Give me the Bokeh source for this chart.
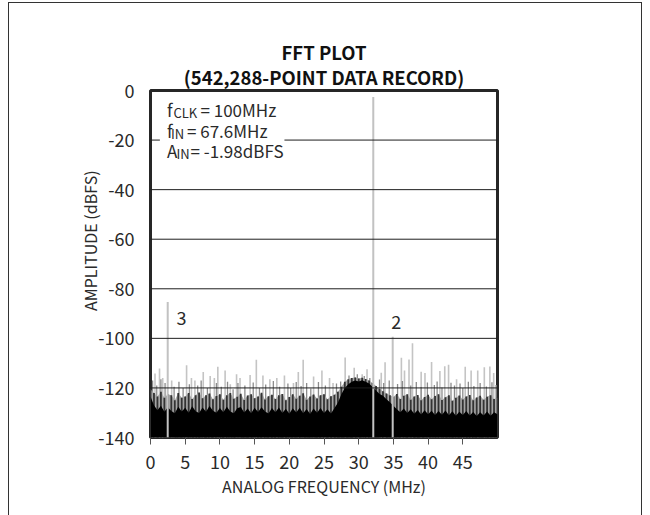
from bokeh.plotting import figure
from bokeh.models import (Range1d, FixedTicker, Label, Span, BoxAnnotation, Title,
                          InlineStyleSheet)
from bokeh.embed import file_html
from bokeh.resources import INLINE

# ---------------- data ----------------
x_ticks = [0, 5, 10, 15, 20, 25, 30, 35, 40, 45]
y_ticks = [-140, -120, -100, -80, -60, -40, -20, 0]

# fundamental and harmonics (MHz, dBFS)
tone_f = [32.1, 2.48, 34.9]
tone_db = [-2.6, -85.3, -99.4]

# tall light-grey spurs
spur_f = [0.65, 1.3, 1.76, 3.05, 5.2, 5.9, 6.4, 7.6, 8.6, 9.2, 9.7, 10.75, 11.5,
          12.4, 12.9, 14.35, 15.25, 16.2, 17.2, 18.2, 19.3, 20.6, 21.3, 22.0, 23.5,
          24.7, 25.8, 26.3, 28.05, 29.35, 30.5, 31.2, 33.25, 33.8, 36.15, 36.6,
          37.25, 37.75, 39.0, 39.55, 40.5, 41.7, 42.4, 42.95, 44.1, 45.35, 46.2,
          47.15, 48.1, 48.9, 49.45]
spur_db = [-114.2, -112.2, -116.0, -117.0, -110.8, -116.0, -117.0, -113.6, -115.2,
           -116.0, -111.5, -113.0, -118.5, -114.5, -116.0, -114.8, -108.6, -115.0,
           -116.5, -116.0, -115.0, -118.0, -113.6, -108.6, -115.4, -113.0, -116.0,
           -118.0, -107.7, -111.9, -114.5, -112.5, -113.9, -109.6, -107.8, -113.0,
           -108.5, -102.0, -113.5, -114.0, -109.5, -113.2, -111.3, -110.6, -116.5,
           -111.5, -113.0, -113.0, -111.7, -111.4, -114.0]

# shorter mid-grey spurs
mid_f = [0.3, 0.9, 1.5, 2.1, 3.4, 4.1, 4.7, 5.6, 6.8, 7.3, 8.2, 9.5, 10.2,
         11.1, 11.9, 12.6, 13.6, 14.8, 15.7, 16.6, 17.7, 18.6, 19.8, 20.2,
         21.0, 21.7, 22.5, 23.1, 24.2, 25.2, 26.8, 27.4, 28.6, 29.8, 30.8,
         31.6, 33.0, 33.6, 34.4, 35.6, 36.3, 37.5, 38.3, 39.0, 39.9, 40.9,
         41.3, 42.0, 43.3, 43.8, 44.6, 45.0, 45.8, 46.6, 47.5, 48.4, 49.2, 49.8]
mid_db = [-117.0, -119.0, -116.5, -118.0, -119.5, -117.5, -120.0, -118.5,
          -119.0, -117.0, -120.0, -118.0, -119.5, -117.5, -120.5, -118.0,
          -119.0, -117.8, -120.0, -118.6, -117.2, -119.5, -118.2, -120.0,
          -117.6, -119.2, -118.0, -120.2, -117.6, -119.0, -118.2, -117.4,
          -115.0, -114.5, -115.2, -116.0, -116.6, -118.0, -117.0, -118.4,
          -117.2, -119.0, -117.6, -119.6, -117.8, -118.8, -117.4, -119.8,
          -117.9, -119.0, -118.2, -120.0, -117.5, -119.2, -118.0, -119.4,
          -117.7, -118.8]

# dense dark "grass" and black noise floor, every 0.5 MHz from 0 to 50 MHz
floor_f = [0.0, 0.5, 1.0, 1.5, 2.0, 2.5, 3.0, 3.5, 4.0, 4.5, 5.0, 5.5, 6.0, 6.5,
           7.0, 7.5, 8.0, 8.5, 9.0, 9.5, 10.0, 10.5, 11.0, 11.5, 12.0, 12.5, 13.0,
           13.5, 14.0, 14.5, 15.0, 15.5, 16.0, 16.5, 17.0, 17.5, 18.0, 18.5, 19.0,
           19.5, 20.0, 20.5, 21.0, 21.5, 22.0, 22.5, 23.0, 23.5, 24.0, 24.5, 25.0,
           25.5, 26.0, 26.5, 27.0, 27.5, 28.0, 28.5, 29.0, 29.5, 30.0, 30.5, 31.0,
           31.5, 32.0, 32.5, 33.0, 33.5, 34.0, 34.5, 35.0, 35.5, 36.0, 36.5, 37.0,
           37.5, 38.0, 38.5, 39.0, 39.5, 40.0, 40.5, 41.0, 41.5, 42.0, 42.5, 43.0,
           43.5, 44.0, 44.5, 45.0, 45.5, 46.0, 46.5, 47.0, 47.5, 48.0, 48.5, 49.0,
           49.5, 50.0]
grass_db = [-120.5, -122.0, -123.5, -121.5, -124.0, -122.5, -123.0, -125.0, -122.0,
            -124.0, -123.5, -122.0, -124.5, -123.0, -121.8, -124.2, -123.0, -122.2,
            -124.6, -123.3, -122.5, -124.8, -123.0, -122.0, -124.4, -123.6, -122.3,
            -124.9, -123.1, -122.6, -124.2, -123.5, -121.9, -124.7, -123.4, -122.8,
            -124.5, -123.0, -122.4, -125.0, -123.7, -122.6, -124.4, -123.2, -122.1,
            -124.8, -123.5, -122.7, -124.3, -123.0, -122.5, -124.6, -123.4, -122.8,
            -121.5, -119.5, -117.5, -116.5, -116.0, -115.8, -116.2, -115.9, -116.4,
            -117.0, -118.0, -119.2, -120.4, -121.3, -122.2, -123.0, -123.6, -122.4,
            -124.5, -123.2, -122.6, -124.8, -123.5, -122.9, -125.0, -123.7, -122.8,
            -124.6, -123.3, -122.5, -124.9, -123.8, -123.0, -125.2, -124.0, -123.1,
            -124.7, -123.5, -122.9, -125.0, -123.9, -123.2, -124.8, -123.6, -123.0,
            -124.5, -124.0]
floor_db = [-123.5, -127.0, -129.0, -127.2, -129.6, -127.8, -129.3, -130.2, -127.6,
            -129.5, -128.0, -130.0, -127.4, -129.4, -130.1, -127.9, -129.6, -127.3,
            -129.2, -130.0, -128.1, -129.8, -127.6, -129.5, -130.2, -128.2, -127.7,
            -129.9, -128.3, -130.2, -128.0, -129.7, -127.8, -129.5, -130.3, -128.1,
            -129.8, -127.9, -130.1, -128.4, -130.4, -128.2, -129.9, -128.0, -130.2,
            -128.5, -130.5, -128.3, -130.0, -128.1, -130.1, -128.6, -130.3, -128.2,
            -126.0, -122.5, -120.0, -118.5, -117.5, -117.0, -117.4, -116.9, -117.5,
            -118.2, -119.6, -121.0, -122.4, -123.2, -124.6, -125.8, -127.2, -128.6,
            -129.8, -128.3, -130.1, -128.6, -130.4, -128.9, -130.7, -129.0, -130.6,
            -129.2, -130.9, -129.3, -130.8, -129.1, -131.0, -129.4, -131.2, -129.6,
            -130.9, -129.3, -131.1, -129.7, -131.3, -129.8, -131.1, -129.5, -131.2,
            -129.8, -130.6]

title_lines = ["FFT PLOT", "(542,288-POINT DATA RECORD)"]
x_label = "ANALOG FREQUENCY (MHz)"
y_label = "AMPLITUDE (dBFS)"
harmonic_labels = ["3", "2"]
harmonic_label_f = [3.75, 34.7]
harmonic_label_db = [-91.7, -93.4]

# ---------------- figure ----------------
FONT = "Noto Sans CJK JP"
TXT = "#2a2a2a"

p = figure(width=634, height=513, output_backend="svg", toolbar_location=None,
           title=None,
           x_range=Range1d(0, 50), y_range=Range1d(-140, 0),
           min_border_left=142, min_border_right=145,
           min_border_top=88, min_border_bottom=78)
p.background_fill_color = "white"
p.border_fill_color = "white"
p.outline_line_color = "#262626"
p.outline_line_width = 3
p.styles = {"margin-left": "8px", "margin-top": "2px"}
p.stylesheets = [InlineStyleSheet(css=(
    ":host { position: relative; }\n"
    ":host::after { content: ''; position: absolute; left: 0; top: 0; right: 0;"
    " bottom: 0; border-left: 1.5px solid #333; border-right: 1.5px solid #333;"
    " border-top: 1.5px solid #333; pointer-events: none; z-index: 1000; }"))]
p.xgrid.visible = False
p.ygrid.visible = False

# title: second line closest to the plot, first line above it
p.add_layout(Title(text=title_lines[1], align="center", text_font=FONT,
                   text_font_size="18.5px", text_font_style="bold",
                   text_color="#111111", standoff=1), "above")
p.add_layout(Title(text=title_lines[0], align="center", text_font=FONT,
                   text_font_size="18.5px", text_font_style="bold",
                   text_color="#111111", standoff=-6), "above")

# axes
p.xaxis.ticker = FixedTicker(ticks=x_ticks)
p.yaxis.ticker = FixedTicker(ticks=y_ticks)
p.yaxis.major_label_overrides = {v: str(v) for v in y_ticks}
for ax in (p.xaxis[0], p.yaxis[0]):
    ax.axis_line_color = None
    ax.minor_tick_line_color = None
    ax.major_label_text_font = FONT
    ax.major_label_text_font_size = "18px"
    ax.major_label_text_color = TXT
    ax.axis_label_text_font = FONT
    ax.axis_label_text_font_size = "16px"
    ax.axis_label_text_font_style = "normal"
    ax.axis_label_text_color = TXT
p.xaxis.axis_label = x_label
p.yaxis.axis_label = "\u00a0" * 13 + y_label
p.xaxis.major_tick_out = 7
p.xaxis.major_tick_in = 0
p.xaxis.major_tick_line_color = "#555555"
p.xaxis.major_label_standoff = 10
p.xaxis.axis_label_standoff = 2
p.yaxis.major_tick_out = 0
p.yaxis.major_tick_in = 0
p.yaxis.major_tick_line_color = None
p.yaxis.major_label_standoff = 16
p.yaxis.axis_label_standoff = -7

# spectrum
p.segment(x0=spur_f, y0=[-140] * len(spur_f), x1=spur_f, y1=spur_db,
          line_color="#c4c4c4", line_width=1.6)
p.segment(x0=mid_f, y0=[-140] * len(mid_f), x1=mid_f, y1=mid_db,
          line_color="#8c8c8c", line_width=1.3)
p.varea(x=floor_f, y1=[-140] * len(floor_f), y2=grass_db, fill_color="#a6a6a6")
p.segment(x0=floor_f, y0=[-140] * len(floor_f), x1=floor_f, y1=grass_db,
          line_color="#333333", line_width=1.8)
p.varea(x=floor_f, y1=[-140] * len(floor_f), y2=floor_db, fill_color="#000000")
p.segment(x0=tone_f, y0=[-140] * len(tone_f), x1=tone_f, y1=tone_db,
          line_color="#c2c2c2", line_width=2)

# grid lines
for yv in y_ticks[1:-1]:
    p.add_layout(Span(location=yv, dimension="width", line_color="#1e1e1e",
                      line_width=1))

# white box behind the annotation text
p.add_layout(BoxAnnotation(left=1.35, right=19.3, top=-4, bottom=-30,
                           fill_color="white", fill_alpha=1, line_color=None))

# annotation text (main parts and subscripts); offsets in px from frame corner
rows = [("f", "CLK", "= 100MHz", 16.5, 23, 50, 18.7),
        ("f", "IN", "= 67.6MHz", 16.5, 20.5, 36.5, 40.3),
        ("A", "IN", "= -1.98dBFS", 16.5, 26, 40, 59.7)]
for main, sub, rest, xm, xs, xr, base in rows:
    p.add_layout(Label(x=0, y=0, x_offset=xm, y_offset=-base, text=main,
                       text_baseline="alphabetic",
                       text_font=FONT, text_font_size="17px", text_color=TXT))
    p.add_layout(Label(x=0, y=0, x_offset=xs, y_offset=-base - 3, text=sub,
                       text_baseline="alphabetic",
                       text_font=FONT, text_font_size="13px", text_color=TXT))
    p.add_layout(Label(x=0, y=0, x_offset=xr, y_offset=-base, text=rest,
                       text_baseline="alphabetic",
                       text_font=FONT, text_font_size="17px", text_color=TXT))

for t, fx, fy in zip(harmonic_labels, harmonic_label_f, harmonic_label_db):
    p.add_layout(Label(x=fx, y=fy, text=t, text_font=FONT, text_baseline="alphabetic",
                       text_font_size="18px", text_color=TXT))

open("out.html", "w").write(file_html(p, INLINE))
